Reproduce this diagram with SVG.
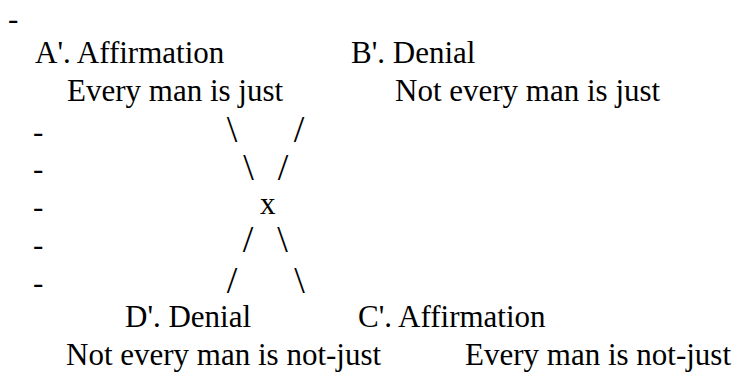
<svg xmlns="http://www.w3.org/2000/svg" width="737" height="372" viewBox="0 0 737 372">
<style>
text{font-family:"Liberation Serif","Times New Roman",serif;font-size:31px;fill:#000}
.sl{font-size:38px;text-anchor:middle}
</style>
<rect width="737" height="372" fill="#fff"/>
<g id="margin">
<text x="8" y="29">-</text>
<text x="33" y="141.5">-</text>
<text x="33" y="178.5">-</text>
<text x="33" y="216.5">-</text>
<text x="33" y="254.8">-</text>
<text x="33" y="292.5">-</text>
</g>
<g id="nodeA">
<text x="35" y="63">A'. Affirmation</text>
<text x="67" y="100.6">Every man is just</text>
</g>
<g id="nodeB">
<text x="351" y="63">B'. Denial</text>
<text x="395" y="100.6">Not every man is just</text>
</g>
<g id="nodeD">
<text x="125" y="327.4">D'. Denial</text>
<text x="66" y="365">Not every man is not-just</text>
</g>
<g id="nodeC">
<text x="358" y="327.4">C'. Affirmation</text>
<text x="465" y="365">Every man is not-just</text>
</g>
<g id="connectors">
<text class="sl" x="232" y="142">\</text>
<text class="sl" x="299" y="142">/</text>
<text class="sl" x="248.5" y="180">\</text>
<text class="sl" x="283" y="180">/</text>
<text x="260" y="213.7">x</text>
<text class="sl" x="248" y="252">/</text>
<text class="sl" x="282.5" y="252">\</text>
<text class="sl" x="232" y="293">/</text>
<text class="sl" x="299.5" y="293">\</text>
</g>
</svg>
